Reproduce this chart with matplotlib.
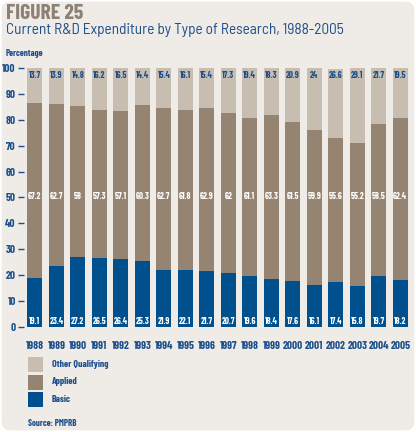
import matplotlib
matplotlib.use('Agg')
import matplotlib.pyplot as plt
from matplotlib.patches import FancyBboxPatch, Rectangle
import numpy as np

COND = ['Barlow Condensed', 'DejaVu Sans']
plt.rcParams['font.family'] = COND

years = ['1988', '1989', '1990', '1991', '1992', '1993', '1994', '1995', '1996',
         '1997', '1998', '1999', '2000', '2001', '2002', '2003', '2004', '2005']
basic = [19.1, 23.4, 27.2, 26.5, 26.4, 25.3, 21.9, 22.1, 21.7,
         20.7, 19.6, 18.4, 17.6, 16.1, 17.4, 15.8, 19.7, 18.2]
applied = [67.2, 62.7, 58, 57.3, 57.1, 60.3, 62.7, 61.8, 62.9,
           62, 61.1, 63.3, 61.5, 59.9, 55.6, 55.2, 58.5, 62.4]
other = [13.7, 13.9, 14.8, 16.2, 16.5, 14.4, 15.4, 16.1, 15.4,
         17.3, 19.4, 18.3, 20.9, 24, 26.6, 29.1, 21.7, 19.5]
series_names = ['Other Qualifying', 'Applied', 'Basic']

BLUE = '#00508e'
BROWN = '#958471'
LIGHT = '#c8bdb1'
BG = '#efebe6'
TXT = '#1d4f8c'

fig = plt.figure(figsize=(4.16, 4.32), dpi=100)
fig.patch.set_facecolor('white')
fig.patches.append(FancyBboxPatch((0.004, 0.004), 0.992, 0.992, boxstyle='round,pad=0,rounding_size=0.02',
                                  transform=fig.transFigure, facecolor=BG, edgecolor='none', zorder=-1))

fig.text(6 / 416, 1 - 4 / 432, 'FIGURE 25', fontsize=15.5, fontweight='bold', color='#8c8174', va='top')
fig.text(6 / 416, 1 - 23 / 432, 'Current R&D Expenditure by Type of Research, 1988-2005', fontsize=11,
         color=TXT, va='top', family=['Barlow Semi Condensed', 'DejaVu Sans'])
fig.text(6 / 416, 1 - 53 / 432, 'Percentage', fontsize=6.5, fontweight='bold', color=TXT, va='center')

ax = fig.add_axes([0.058, 0.243, 0.93, 0.6])
ax.set_facecolor('none')
x = np.arange(len(years))
w = 0.7
b = np.array(basic)
a = np.array(applied)
o = np.array(other)
ax.bar(x, b, w, color=BLUE, label='Basic')
ax.bar(x, a, w, bottom=b, color=BROWN, label='Applied')
ax.bar(x, o, w, bottom=b + a, color=LIGHT, label='Other Qualifying')

def fmt(v):
    return ('%g' % v)

for i in range(len(years)):
    ax.text(x[i], 2.3, fmt(basic[i]), ha='center', va='center', color='white', fontsize=6.5, fontweight='bold')
    ax.text(x[i], 50.2, fmt(applied[i]), ha='center', va='center', color='white', fontsize=6.5, fontweight='bold')
    ax.text(x[i], 97.2, fmt(other[i]), ha='center', va='center', color=TXT, fontsize=6.5, fontweight='bold')

ax.set_xlim(-0.5, 17.5)
ax.set_ylim(0, 100)
ax.set_yticks(range(0, 101, 10))
ax.set_yticklabels([str(v) for v in range(0, 101, 10)], color=TXT, fontsize=8, fontweight='bold')
ax.tick_params(axis='y', length=4, width=1, color=TXT, pad=2, direction='out')
ax.set_xticks(x)
ax.set_xticklabels(years, color=TXT, fontsize=8, fontweight='bold')
ax.tick_params(axis='x', length=0, pad=10)
for s in ax.spines.values():
    s.set_visible(False)

colors = [LIGHT, BROWN, BLUE]
for k, name in enumerate(series_names):
    y0 = 1 - (357 + k * 17.5) / 432
    fig.patches.append(Rectangle((28 / 416, y0 - 15 / 432), 15 / 416, 15 / 432,
                                 transform=fig.transFigure, facecolor=colors[k], edgecolor='none'))
    fig.text(52 / 416, y0 - 7.5 / 432, name, fontsize=7, fontweight='bold', color=TXT, va='center')

fig.text(28 / 416, 1 - 423 / 432, 'Source: PMPRB', fontsize=6.5, fontweight='bold', color=TXT, va='center')

fig.savefig('out.png', dpi=100, facecolor=fig.get_facecolor())
